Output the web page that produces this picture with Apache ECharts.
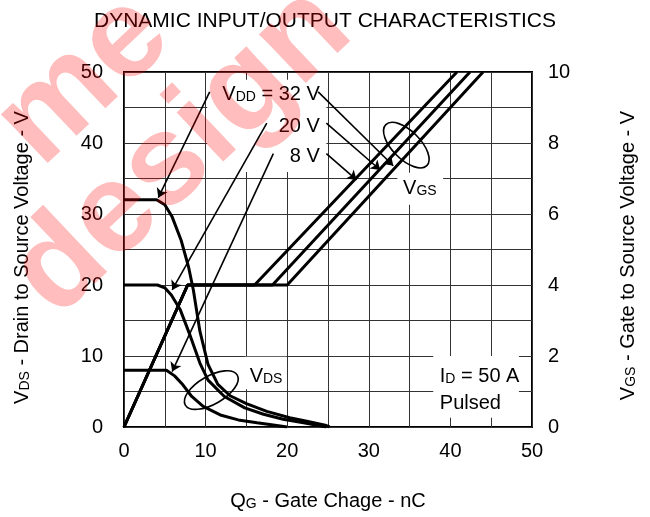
<!DOCTYPE html>
<html><head><meta charset="utf-8">
<script src="https://cdn.jsdelivr.net/npm/echarts@6/dist/echarts.min.js"></script>
<style>html,body{margin:0;padding:0;background:#fff}#c{width:650px;height:517px}</style>
</head><body><div id="c"></div>
<script>
// ---- data ----
const xTicks = [0, 10, 20, 30, 40, 50];
const vdsTicks = [0, 10, 20, 30, 40, 50];
const vgsTicks = [0, 2, 4, 6, 8, 10];

// V_DS (left axis, V) vs Qg (nC)
const vds32 = [[0,32],[4.0,32],[5.0,31.3],[5.9,29.6],[7.0,26.3],[7.9,22.6],[8.5,19.3],[9.3,13.5],[10.3,8.8],[11.5,6.0],[13,4.4],[15,3.3],[17.5,2.2],[20.3,1.3],[22.4,0.8],[24.8,0.2],[25.2,0]];
const vds20 = [[0,20],[4.1,20],[5.0,19.6],[5.8,18.6],[6.9,16.5],[8.1,12.9],[9.3,9.0],[10.3,6.6],[12.3,4.3],[14.8,2.7],[17.1,1.8],[19.5,1.1],[22,0.6],[24.8,0]];
const vds8  = [[0,8],[5.2,8],[6.2,7.2],[7.1,6.1],[8.3,4.3],[9.7,2.9],[11.8,1.7],[14,1.0],[16.3,0.6],[18.5,0.25],[20,0]];
// V_GS (right axis, V) vs Qg (nC)
const vgs8  = [[0,0],[7.8,4],[16.0,4],[40.8,10]];
const vgs20 = [[0,0],[7.8,4],[18.2,4],[42.4,10]];
const vgs32 = [[0,0],[7.8,4],[20.0,4],[44.0,10]];

// annotations, in (Qg, left-axis V) coordinates
const arrows = [
  [[10.5,47.2],[4.2,32.3]],
  [[17.5,42.8],[5.9,19.3]],
  [[18.3,38.5],[5.9,7.8]],
  [[23.8,47.2],[33.0,36.8]],
  [[24.8,42.8],[31.4,36.2]],
  [[24.8,38.5],[28.5,34.8]]
];
const labelTexts = ['{v|V}{s|DD}{v| = 32 V}', '{v|20 V}', '{v|8 V}', '{v|V}{s|GS}', '{v|V}{s|DS}', '{v|I}{s|D}{v| = 50 A}', '{v|Pulsed}'];
const labelPos = [[24.0,47.0],[24.0,42.4],[24.0,38.2],[34.2,33.8],[15.4,7.3],[38.7,7.3],[38.7,3.4]];
const labelAlign = ['right','right','right','left','left','left','left'];
const boxes = [[10.2,48.9,24.8,35.9],[33.5,35.8,39.1,31.3],[14.8,9.9,19.9,5.3],[37.9,10.0,48.4,1.3]];
const ellipseCenters = [[34.6,39.7],[10.7,5.2]];

// ---- chart ----
const FONT = 'Liberation Sans, Arial, sans-serif';
const rich = {
  v: {fontSize: 20, fontFamily: FONT, color: '#000', verticalAlign: 'bottom', lineHeight: 22},
  s: {fontSize: 14, fontFamily: FONT, color: '#000', verticalAlign: 'bottom', lineHeight: 20}
};
const chart = echarts.init(document.getElementById('c'), null, {renderer: 'canvas'});
const lineStyle = {color: '#000', width: 3};
function mk(data, yi) {
  return {type: 'line', data: data, yAxisIndex: yi, showSymbol: false, symbol: 'none',
          lineStyle: lineStyle, itemStyle: {color: '#000'}, z: 3, animation: false};
}
const option = {
  animation: false,
  backgroundColor: '#fff',
  title: {text: 'DYNAMIC INPUT/OUTPUT CHARACTERISTICS', left: 'center', top: 6,
          textStyle: {fontSize: 21, fontWeight: 'normal', fontFamily: FONT, color: '#000'}},
  grid: {left: 124, right: 118, top: 72, bottom: 90, show: true, borderColor: '#000', borderWidth: 2, backgroundColor: 'transparent'},
  xAxis: {type: 'value', min: xTicks[0], max: xTicks[xTicks.length-1], interval: 5,
    axisLine: {show: false}, axisTick: {show: false},
    splitLine: {show: true, lineStyle: {color: '#333', width: 1}},
    axisLabel: {fontSize: 20, fontFamily: FONT, color: '#000', margin: 14,
      formatter: v => xTicks.includes(v) ? String(v) : ''},
    name: '{v|Q}{s|G}{v| - Gate Chage - nC}', nameLocation: 'middle', nameGap: 62,
    nameTextStyle: {rich: rich}},
  yAxis: [
    {type: 'value', min: vdsTicks[0], max: vdsTicks[vdsTicks.length-1], interval: 5,
     axisLine: {show: false}, axisTick: {show: false},
     splitLine: {show: true, lineStyle: {color: '#333', width: 1}},
     axisLabel: {fontSize: 20, fontFamily: FONT, color: '#000', margin: 21,
       formatter: v => vdsTicks.includes(v) ? String(v) : ''},
     name: '{v|V}{s|DS}{v| - Drain to Source Voltage - V}', nameLocation: 'middle', nameGap: 92, nameRotate: 90,
     nameTextStyle: {rich: rich, padding: [0, 16, 0, 0]}},
    {type: 'value', min: vgsTicks[0], max: vgsTicks[vgsTicks.length-1], interval: 2, position: 'right',
     axisLine: {show: false}, axisTick: {show: false}, splitLine: {show: false},
     axisLabel: {fontSize: 20, fontFamily: FONT, color: '#000', margin: 16},
     name: '{v|V}{s|GS}{v| - Gate to Source Voltage - V}', nameLocation: 'middle', nameGap: 84, nameRotate: 90,
     nameTextStyle: {rich: rich, padding: [0, 12, 0, 0]}}
  ],
  series: [
    mk(vds32, 0), mk(vds20, 0), mk(vds8, 0),
    mk(vgs8, 1), mk(vgs20, 1), mk(vgs32, 1),
    {type: 'lines', coordinateSystem: 'cartesian2d', xAxisIndex: 0, yAxisIndex: 0, z: 4,
     symbol: ['none', 'arrow'], symbolSize: [0, 9],
     lineStyle: {color: '#000', width: 1.6, opacity: 1}, itemStyle: {color: '#000'},
     data: arrows.map(a => ({coords: a}))}
  ]
};
chart.setOption(option);

function px(p) { return chart.convertToPixel({seriesIndex: 0}, p); }
const g = [];
boxes.forEach(b => {
  const a = px([b[0], b[1]]), c = px([b[2], b[3]]);
  g.push({type: 'rect', z: 1, silent: true,
    shape: {x: Math.min(a[0], c[0]), y: Math.min(a[1], c[1]), width: Math.abs(c[0]-a[0]), height: Math.abs(c[1]-a[1])},
    style: {fill: '#fff'}});
});
labelTexts.forEach((t, i) => {
  const p = px(labelPos[i]);
  g.push({type: 'text', z: 5, x: p[0], y: p[1],
    style: {text: t, rich: rich, align: labelAlign[i], verticalAlign: 'middle', fill: '#000'}});
});
const ell = [{rx: 29, ry: 14, rot: -Math.PI/4}, {rx: 30, ry: 14, rot: Math.PI/6}];
ellipseCenters.forEach((c, i) => {
  const p = px(c);
  g.push({type: 'ellipse', z: 5, x: p[0], y: p[1], rotation: ell[i].rot,
    shape: {cx: 0, cy: 0, rx: ell[i].rx, ry: ell[i].ry},
    style: {fill: 'none', stroke: '#000', lineWidth: 1.6}});
});
// watermark
g.push({type: 'text', z: 20, x: 84, y: 80, rotation: 0.76, silent: true,
  style: {text: 'me', font: 'bold 128px Liberation Sans, Arial', fill: 'rgba(255,0,0,0.26)', align: 'center', verticalAlign: 'middle'}});
g.push({type: 'text', z: 20, x: 182, y: 152, rotation: 0.76, silent: true,
  style: {text: 'design', font: 'bold 128px Liberation Sans, Arial', fill: 'rgba(255,0,0,0.26)', align: 'center', verticalAlign: 'middle'}});
chart.setOption({graphic: g});
</script></body></html>
